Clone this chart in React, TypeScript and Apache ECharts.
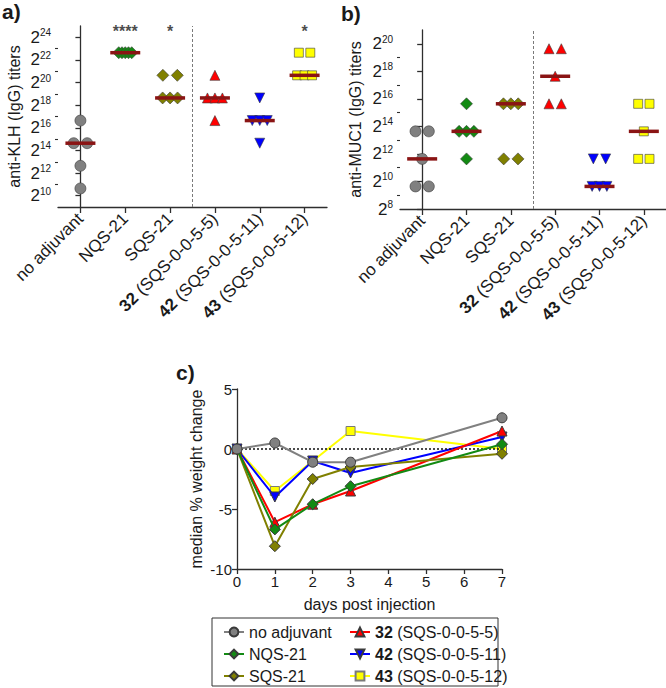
import React, { useEffect, useRef } from 'react';
import * as echarts from 'echarts';

const FONT = '"Liberation Sans", Arial, Helvetica, sans-serif';
const TEXT = '#1a1a1a';
const AXIS = '#2e2e2e';

// groups (shared by all panels)
const groups = ['no adjuvant', 'NQS-21', 'SQS-21', '32 (SQS-0-0-5-5)', '42 (SQS-0-0-5-11)', '43 (SQS-0-0-5-12)'];
const groupColors = ['#808080', '#138a13', '#808000', '#ff0000', '#0000ff', '#ffff00'];
const groupSymbols = ['circle', 'diamond', 'diamond', 'triangle', 'triangle', 'rect'];
const groupRotate = [0, 0, 0, 0, 180, 0];
const groupDotSize = [11, 12, 12, 10, 10, 9];
const groupLineSize = [10, 11, 11, 10, 10, 9];

// Panel a: anti-KLH (IgG) titers, log2 of titer
const klhNoAdjuvant = [16.64, 14.64, 14.64, 12.64, 10.64];
const klhNQS21 = [22.64, 22.64, 22.64, 22.64, 22.64];
const klhSQS21 = [20.64, 20.64, 18.64, 18.64, 18.64];
const klh32 = [20.64, 18.64, 18.64, 18.64, 16.64];
const klh42 = [18.64, 16.64, 16.64, 16.64, 14.64];
const klh43 = [22.64, 22.64, 20.64, 20.64, 20.64];
const klhStars = ['', '****', '*', '', '', '*'];
const klhMajorExp = [10, 12, 14, 16, 18, 20, 22, 24];
const klhMinorExp = [11, 13, 15, 17, 19, 21, 23];

// Panel b: anti-MUC1 (IgG) titers, log2 of titer
const mucNoAdjuvant = [13.64, 13.64, 11.64, 9.64, 9.64];
const mucNQS21 = [15.64, 13.64, 13.64, 13.64, 11.64];
const mucSQS21 = [15.64, 15.64, 15.64, 11.64, 11.64];
const muc32 = [19.64, 19.64, 17.64, 15.64, 15.64];
const muc42 = [11.64, 11.64, 9.64, 9.64, 9.64];
const muc43 = [15.64, 15.64, 13.64, 11.64, 11.64];
const mucMajorExp = [8, 10, 12, 14, 16, 18, 20];
const mucMinorExp = [9, 11, 13, 15, 17, 19];

// Panel c: median % weight change
const days = [0, 1, 2, 3, 7];
const wNoAdjuvant = [0, 0.5, -1.1, -1.1, 2.6];
const wNQS21 = [0, -6.7, -4.6, -3.1, 0.4];
const wSQS21 = [0, -8.1, -2.5, -1.5, -0.4];
const w32 = [0, -6.1, -4.6, -3.5, 1.5];
const w42 = [0, -4.0, -1.0, -2.0, 1.0];
const w43 = [0, -3.5, -1.0, 1.5, 0.0];

const BAND_PX = 45;

function spreadPx(n: number, size: number) {
  if (n <= 1) return 0;
  if (n === 2) return size + 2.5;
  if (n === 3) return 7.5;
  return 13 / (n - 1);
}

function jitter(vals: number[], size: number): [number, number][] {
  const counts = new Map<number, number>();
  vals.forEach((v) => counts.set(v, (counts.get(v) || 0) + 1));
  const seen = new Map<number, number>();
  return vals.map((v) => {
    const n = counts.get(v) || 1;
    const k = seen.get(v) || 0;
    seen.set(v, k + 1);
    const step = spreadPx(n, size) / BAND_PX;
    return [(k - (n - 1) / 2) * step, v];
  });
}

function median(vals: number[]) {
  const s = [...vals].sort((a, b) => a - b);
  return s[Math.floor(s.length / 2)];
}

function catFmt(name: string) {
  const m = name.match(/^(\d+) (.*)$/);
  return m ? `{b|${m[1]}}{n| ${m[2]}}` : `{n|${name}}`;
}

const catRich = {
  b: { fontSize: 17, fontWeight: 'bold', fontFamily: FONT, color: TEXT },
  n: { fontSize: 17, fontFamily: FONT, color: TEXT },
};

const supRich = {
  b: { fontSize: 17, fontFamily: FONT, color: TEXT, lineHeight: 19 },
  s: { fontSize: 10, fontFamily: FONT, color: TEXT, verticalAlign: 'top', lineHeight: 10 },
};

function dotSeries(prefix: string, xVal: number, yIdx: number, sets: number[][], stars: string[] | null, starLevel: number) {
  const out: any[] = [];
  sets.forEach((vals, i) => {
    out.push({
      type: 'scatter',
      name: `${prefix} ${groups[i]}`,
      xAxisIndex: xVal,
      yAxisIndex: yIdx,
      symbol: groupSymbols[i],
      symbolRotate: groupRotate[i],
      symbolSize: groupDotSize[i],
      itemStyle: { color: groupColors[i], borderColor: '#3a3a3a', borderWidth: 0.6, opacity: 1 },
      data: jitter(vals, groupDotSize[i]).map(([o, v]) => [i + o, v]),
      z: 2,
      silent: true,
    });
  });
  out.push({
    type: 'scatter',
    name: `${prefix} median`,
    xAxisIndex: xVal,
    yAxisIndex: yIdx,
    symbol: 'rect',
    symbolSize: [30, 3.5],
    itemStyle: { color: '#8a1414', opacity: 1 },
    data: sets.map((vals, i) => [i, median(vals)]),
    z: 4,
    silent: true,
    markLine: {
      silent: true,
      symbol: ['none', 'none'],
      label: { show: false },
      lineStyle: { color: '#7a7a7a', width: 1, type: [3, 2] },
      data: [{ xAxis: 2.5 }],
    },
  });
  if (stars) {
    out.push({
      type: 'scatter',
      name: `${prefix} stars`,
      xAxisIndex: xVal,
      yAxisIndex: yIdx,
      symbolSize: 1,
      itemStyle: { color: 'rgba(0,0,0,0)' },
      data: stars
        .map((s, i) => (s ? { value: [i, starLevel], name: s } : null))
        .filter(Boolean),
      label: {
        show: true,
        position: 'inside',
        formatter: '{b}',
        fontSize: 16,
        fontWeight: 'bold',
        fontFamily: FONT,
        color: TEXT,
      },
      z: 5,
      silent: true,
    });
  }
  return out;
}

function catAxis(gridIndex: number) {
  return {
    type: 'category',
    gridIndex,
    data: groups,
    position: 'bottom',
    axisLine: { show: true, lineStyle: { color: AXIS, width: 1.3 } },
    axisTick: { show: true, alignWithLabel: true, length: 6, lineStyle: { color: AXIS, width: 1.3 } },
    axisLabel: { rotate: 45, interval: 0, margin: 9, formatter: catFmt, rich: catRich },
    splitLine: { show: false },
  };
}

function valXAxis(gridIndex: number) {
  return { type: 'value', gridIndex, min: -0.5, max: 5.5, show: false, position: 'top', splitLine: { show: false } };
}

function logYAxes(gridIndex: number, min: number, max: number, major: number[], minor: number[], name: string, nameGap: number) {
  return [
    {
      type: 'value',
      gridIndex,
      position: 'left',
      min,
      max,
      name,
      nameLocation: 'middle',
      nameGap,
      nameTextStyle: { fontSize: 16, fontFamily: FONT, color: TEXT },
      axisLine: { show: true, lineStyle: { color: AXIS, width: 1.3 } },
      axisTick: { show: true, length: 5, customValues: major, lineStyle: { color: AXIS, width: 1.3 } },
      axisLabel: {
        customValues: major,
        margin: 7,
        formatter: (v: number) => `{b|2}{s|${v}}`,
        rich: supRich,
      },
      splitLine: { show: false },
    },
    {
      type: 'value',
      gridIndex,
      position: 'left',
      min,
      max,
      axisLine: { show: false },
      axisTick: { show: true, length: 3, customValues: minor, lineStyle: { color: AXIS, width: 1.1 } },
      axisLabel: { show: false },
      splitLine: { show: false },
    },
  ];
}

const weightSets = [wNoAdjuvant, wNQS21, wSQS21, w32, w42, w43];
const drawOrder = [5, 4, 3, 2, 1, 0];

function buildOption() {
  const lineSeries = drawOrder.map((i, k) => ({
    type: 'line',
    name: groups[i],
    xAxisIndex: 4,
    yAxisIndex: 4,
    symbol: groupSymbols[i],
    symbolRotate: groupRotate[i],
    symbolSize: groupLineSize[i],
    showAllSymbol: true,
    lineStyle: { color: groupColors[i], width: 2 },
    itemStyle: { color: groupColors[i], borderColor: i === 5 ? '#7a7a7a' : '#3a3a3a', borderWidth: 1 },
    data: days.map((d, j) => [d, weightSets[i][j]]),
    z: 3 + k,
    silent: true,
    markLine:
      k === 0
        ? {
            silent: true,
            symbol: ['none', 'none'],
            label: { show: false },
            lineStyle: { color: '#111', width: 1.6, type: [2, 2] },
            data: [{ yAxis: 0 }],
          }
        : undefined,
  }));

  const legendText = {
    fontSize: 16,
    fontFamily: FONT,
    color: TEXT,
    lineHeight: 18,
    rich: {
      b: { fontSize: 16, fontWeight: 'bold', fontFamily: FONT, color: TEXT, lineHeight: 18 },
      n: { fontSize: 16, fontFamily: FONT, color: TEXT, lineHeight: 18 },
    },
  };

  const legendBase = {
    orient: 'vertical',
    top: 623,
    height: 80,
    padding: 0,
    itemWidth: 20,
    itemHeight: 11,
    itemGap: 4,
    selectedMode: false,
    formatter: catFmt,
    textStyle: legendText,
  };

  return {
    animation: false,
    backgroundColor: '#ffffff',
    textStyle: { fontFamily: FONT },
    grid: [
      { left: 58, top: 26, width: 269, height: 181, containLabel: false, outerBoundsMode: 'none' },
      { left: 400, top: 30, width: 266, height: 179, containLabel: false, outerBoundsMode: 'none' },
      { left: 237, top: 389, width: 265, height: 180, containLabel: false, outerBoundsMode: 'none' },
    ],
    xAxis: [
      catAxis(0),
      valXAxis(0),
      catAxis(1),
      valXAxis(1),
      {
        type: 'value',
        gridIndex: 2,
        position: 'bottom',
        min: 0,
        max: 7,
        interval: 1,
        name: 'days post injection',
        nameLocation: 'middle',
        nameGap: 27,
        nameTextStyle: { fontSize: 16, fontFamily: FONT, color: TEXT },
        axisLine: { show: true, onZero: false, lineStyle: { color: AXIS, width: 1.3 } },
        axisTick: { show: true, length: 5, lineStyle: { color: AXIS, width: 1.3 } },
        axisLabel: { fontSize: 15, fontFamily: FONT, color: TEXT, margin: 5 },
        splitLine: { show: false },
      },
    ],
    yAxis: [
      ...logYAxes(0, 9, 25, klhMajorExp, klhMinorExp, 'anti-KLH (IgG) titers', 36),
      ...logYAxes(1, 8, 21, mucMajorExp, mucMinorExp, 'anti-MUC1 (IgG) titers', 37),
      {
        type: 'value',
        gridIndex: 2,
        position: 'left',
        min: -10,
        max: 5,
        interval: 5,
        name: 'median % weight change',
        nameLocation: 'middle',
        nameGap: 33,
        nameTextStyle: { fontSize: 16, fontFamily: FONT, color: TEXT },
        axisLine: { show: true, onZero: false, lineStyle: { color: AXIS, width: 1.3 } },
        axisTick: { show: true, length: 5, lineStyle: { color: AXIS, width: 1.3 } },
        axisLabel: { fontSize: 15, fontFamily: FONT, color: TEXT, margin: 5 },
        splitLine: { show: false },
      },
    ],
    legend: [
      { ...legendBase, data: groups.slice(0, 3), left: 223 },
      { ...legendBase, data: groups.slice(3), left: 349 },
    ],
    graphic: [
      { type: 'text', left: 2, top: 1, style: { text: 'a)', fontSize: 21, fontWeight: 'bold', fontFamily: FONT, fill: TEXT } },
      { type: 'text', left: 341, top: 3, style: { text: 'b)', fontSize: 21, fontWeight: 'bold', fontFamily: FONT, fill: TEXT } },
      { type: 'text', left: 176, top: 362, style: { text: 'c)', fontSize: 21, fontWeight: 'bold', fontFamily: FONT, fill: TEXT } },
      {
        type: 'rect',
        shape: { x: 212, y: 618, width: 286, height: 68 },
        style: { fill: 'none', stroke: '#333', lineWidth: 1 },
        silent: true,
      },
    ],
    series: [
      ...dotSeries('KLH', 1, 0, [klhNoAdjuvant, klhNQS21, klhSQS21, klh32, klh42, klh43], klhStars, 24.55),
      ...dotSeries('MUC1', 3, 2, [mucNoAdjuvant, mucNQS21, mucSQS21, muc32, muc42, muc43], null, 0),
      ...lineSeries,
    ],
  };
}

export default function App() {
  const ref = useRef<HTMLDivElement>(null);
  useEffect(() => {
    if (!ref.current) return;
    const chart = echarts.init(ref.current, null, { renderer: 'svg' });
    chart.setOption(buildOption() as any);
    return () => chart.dispose();
  }, []);
  return <div ref={ref} style={{ position: 'absolute', left: 0, top: 0, width: 666, height: 688, background: '#fff' }} />;
}
